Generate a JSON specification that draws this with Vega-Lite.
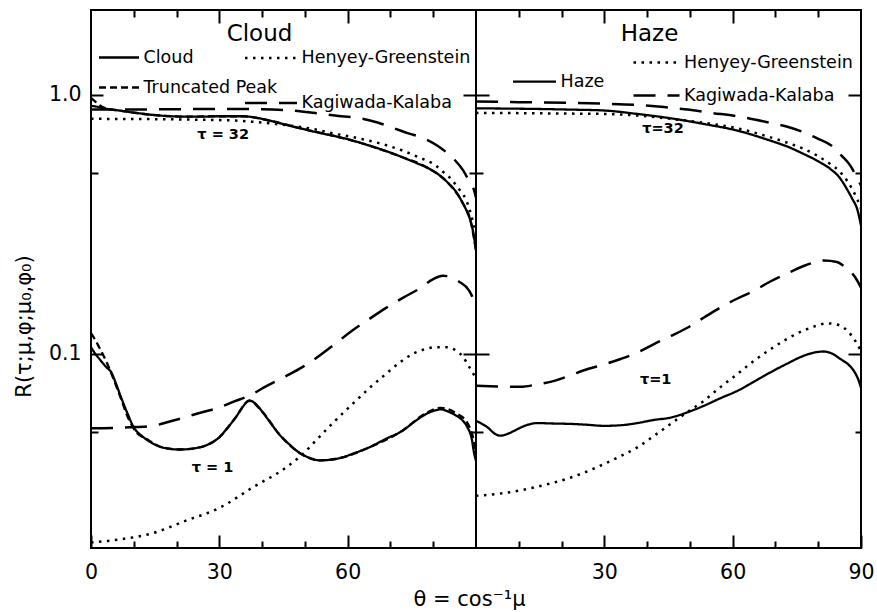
{
  "$schema": "https://vega.github.io/schema/vega-lite/v6.json",
  "padding": {"left": 12, "top": 8, "right": 5, "bottom": 3},
  "background": "white",
  "spacing": 0,
  "bounds": "flush",
  "config": {
    "font": "DejaVu Sans",
    "view": {"stroke": "#000", "strokeWidth": 2},
    "axis": {"domain": false, "grid": false, "tickColor": "#000", "tickWidth": 2, "labelColor": "#000", "titleColor": "#000", "labelFont": "DejaVu Sans", "titleFont": "DejaVu Sans", "titleFontWeight": "normal", "labelOverlap": false, "labelFlush": false},
    "legend": {"labelColor": "#000", "labelFont": "DejaVu Sans", "labelFontSize": 17.5, "padding": 0, "symbolStrokeColor": "#000", "symbolFillColor": "transparent", "symbolType": "stroke", "labelOffset": 3, "labelLimit": 400},
    "title": {"color": "#000", "font": "DejaVu Sans", "fontWeight": "normal", "fontSize": 23}
  },
  "datasets": {
    "notes": [
      {"panel": "Cloud", "theta": 30.9, "R": 0.70, "label": "τ = 32"},
      {"panel": "Cloud", "theta": 28.4, "R": 0.0363, "label": "τ = 1"},
      {"panel": "Haze", "theta": 43.7, "R": 0.739, "label": "τ=32"},
      {"panel": "Haze", "theta": 42, "R": 0.079, "label": "τ=1"}
    ],
    "curves": [
      {"panel":"Cloud","model":"Cloud","tau":32,"theta":0,"R":0.905},
      {"panel":"Cloud","model":"Cloud","tau":32,"theta":1,"R":0.9},
      {"panel":"Cloud","model":"Cloud","tau":32,"theta":3,"R":0.885},
      {"panel":"Cloud","model":"Cloud","tau":32,"theta":6.6,"R":0.868},
      {"panel":"Cloud","model":"Cloud","tau":32,"theta":10,"R":0.852},
      {"panel":"Cloud","model":"Cloud","tau":32,"theta":14.4,"R":0.835},
      {"panel":"Cloud","model":"Cloud","tau":32,"theta":18,"R":0.826},
      {"panel":"Cloud","model":"Cloud","tau":32,"theta":22.2,"R":0.822},
      {"panel":"Cloud","model":"Cloud","tau":32,"theta":26,"R":0.822},
      {"panel":"Cloud","model":"Cloud","tau":32,"theta":30,"R":0.825},
      {"panel":"Cloud","model":"Cloud","tau":32,"theta":35.4,"R":0.825},
      {"panel":"Cloud","model":"Cloud","tau":32,"theta":38.5,"R":0.815},
      {"panel":"Cloud","model":"Cloud","tau":32,"theta":41.7,"R":0.794},
      {"panel":"Cloud","model":"Cloud","tau":32,"theta":45.5,"R":0.765},
      {"panel":"Cloud","model":"Cloud","tau":32,"theta":49.5,"R":0.737},
      {"panel":"Cloud","model":"Cloud","tau":32,"theta":53,"R":0.714},
      {"panel":"Cloud","model":"Cloud","tau":32,"theta":57.2,"R":0.69},
      {"panel":"Cloud","model":"Cloud","tau":32,"theta":61,"R":0.666},
      {"panel":"Cloud","model":"Cloud","tau":32,"theta":65,"R":0.636},
      {"panel":"Cloud","model":"Cloud","tau":32,"theta":69,"R":0.605},
      {"panel":"Cloud","model":"Cloud","tau":32,"theta":72.8,"R":0.573},
      {"panel":"Cloud","model":"Cloud","tau":32,"theta":76,"R":0.545},
      {"panel":"Cloud","model":"Cloud","tau":32,"theta":79.1,"R":0.517},
      {"panel":"Cloud","model":"Cloud","tau":32,"theta":81.5,"R":0.488},
      {"panel":"Cloud","model":"Cloud","tau":32,"theta":83.7,"R":0.452},
      {"panel":"Cloud","model":"Cloud","tau":32,"theta":85.5,"R":0.418},
      {"panel":"Cloud","model":"Cloud","tau":32,"theta":86.8,"R":0.384},
      {"panel":"Cloud","model":"Cloud","tau":32,"theta":88,"R":0.35},
      {"panel":"Cloud","model":"Cloud","tau":32,"theta":88.8,"R":0.322},
      {"panel":"Cloud","model":"Cloud","tau":32,"theta":89.5,"R":0.285},
      {"panel":"Cloud","model":"Cloud","tau":32,"theta":90,"R":0.25},

      {"panel":"Cloud","model":"Truncated Peak","tau":32,"theta":0,"R":0.97},
      {"panel":"Cloud","model":"Truncated Peak","tau":32,"theta":1,"R":0.94},
      {"panel":"Cloud","model":"Truncated Peak","tau":32,"theta":2,"R":0.91},
      {"panel":"Cloud","model":"Truncated Peak","tau":32,"theta":3.5,"R":0.884},
      {"panel":"Cloud","model":"Truncated Peak","tau":32,"theta":6.6,"R":0.868},
      {"panel":"Cloud","model":"Truncated Peak","tau":32,"theta":14.4,"R":0.835},
      {"panel":"Cloud","model":"Truncated Peak","tau":32,"theta":22.2,"R":0.822},
      {"panel":"Cloud","model":"Truncated Peak","tau":32,"theta":30,"R":0.825},
      {"panel":"Cloud","model":"Truncated Peak","tau":32,"theta":35.4,"R":0.825},
      {"panel":"Cloud","model":"Truncated Peak","tau":32,"theta":41.7,"R":0.794},
      {"panel":"Cloud","model":"Truncated Peak","tau":32,"theta":49.5,"R":0.737},
      {"panel":"Cloud","model":"Truncated Peak","tau":32,"theta":57.2,"R":0.69},
      {"panel":"Cloud","model":"Truncated Peak","tau":32,"theta":65,"R":0.636},
      {"panel":"Cloud","model":"Truncated Peak","tau":32,"theta":72.8,"R":0.573},
      {"panel":"Cloud","model":"Truncated Peak","tau":32,"theta":79.1,"R":0.517},
      {"panel":"Cloud","model":"Truncated Peak","tau":32,"theta":83.7,"R":0.452},
      {"panel":"Cloud","model":"Truncated Peak","tau":32,"theta":86.8,"R":0.384},
      {"panel":"Cloud","model":"Truncated Peak","tau":32,"theta":88.8,"R":0.322},
      {"panel":"Cloud","model":"Truncated Peak","tau":32,"theta":90,"R":0.25},

      {"panel":"Cloud","model":"Henyey-Greenstein","tau":32,"theta":0,"R":0.806},
      {"panel":"Cloud","model":"Henyey-Greenstein","tau":32,"theta":10,"R":0.805},
      {"panel":"Cloud","model":"Henyey-Greenstein","tau":32,"theta":20,"R":0.802},
      {"panel":"Cloud","model":"Henyey-Greenstein","tau":32,"theta":30,"R":0.797},
      {"panel":"Cloud","model":"Henyey-Greenstein","tau":32,"theta":33.7,"R":0.794},
      {"panel":"Cloud","model":"Henyey-Greenstein","tau":32,"theta":37.7,"R":0.786},
      {"panel":"Cloud","model":"Henyey-Greenstein","tau":32,"theta":41.7,"R":0.775},
      {"panel":"Cloud","model":"Henyey-Greenstein","tau":32,"theta":45.5,"R":0.762},
      {"panel":"Cloud","model":"Henyey-Greenstein","tau":32,"theta":49.5,"R":0.748},
      {"panel":"Cloud","model":"Henyey-Greenstein","tau":32,"theta":53,"R":0.73},
      {"panel":"Cloud","model":"Henyey-Greenstein","tau":32,"theta":57.2,"R":0.705},
      {"panel":"Cloud","model":"Henyey-Greenstein","tau":32,"theta":61,"R":0.686},
      {"panel":"Cloud","model":"Henyey-Greenstein","tau":32,"theta":65,"R":0.664},
      {"panel":"Cloud","model":"Henyey-Greenstein","tau":32,"theta":69,"R":0.638},
      {"panel":"Cloud","model":"Henyey-Greenstein","tau":32,"theta":72.8,"R":0.608},
      {"panel":"Cloud","model":"Henyey-Greenstein","tau":32,"theta":76.5,"R":0.574},
      {"panel":"Cloud","model":"Henyey-Greenstein","tau":32,"theta":80.6,"R":0.532},
      {"panel":"Cloud","model":"Henyey-Greenstein","tau":32,"theta":82.5,"R":0.5},
      {"panel":"Cloud","model":"Henyey-Greenstein","tau":32,"theta":84.5,"R":0.466},
      {"panel":"Cloud","model":"Henyey-Greenstein","tau":32,"theta":86,"R":0.432},
      {"panel":"Cloud","model":"Henyey-Greenstein","tau":32,"theta":87.6,"R":0.395},
      {"panel":"Cloud","model":"Henyey-Greenstein","tau":32,"theta":88.5,"R":0.36},
      {"panel":"Cloud","model":"Henyey-Greenstein","tau":32,"theta":89.1,"R":0.332},
      {"panel":"Cloud","model":"Henyey-Greenstein","tau":32,"theta":89.8,"R":0.3},

      {"panel":"Cloud","model":"Kagiwada-Kalaba","tau":32,"theta":0,"R":0.875},
      {"panel":"Cloud","model":"Kagiwada-Kalaba","tau":32,"theta":10,"R":0.876},
      {"panel":"Cloud","model":"Kagiwada-Kalaba","tau":32,"theta":20,"R":0.878},
      {"panel":"Cloud","model":"Kagiwada-Kalaba","tau":32,"theta":30,"R":0.88},
      {"panel":"Cloud","model":"Kagiwada-Kalaba","tau":32,"theta":40,"R":0.878},
      {"panel":"Cloud","model":"Kagiwada-Kalaba","tau":32,"theta":46,"R":0.87},
      {"panel":"Cloud","model":"Kagiwada-Kalaba","tau":32,"theta":52,"R":0.85},
      {"panel":"Cloud","model":"Kagiwada-Kalaba","tau":32,"theta":57,"R":0.83},
      {"panel":"Cloud","model":"Kagiwada-Kalaba","tau":32,"theta":63,"R":0.81},
      {"panel":"Cloud","model":"Kagiwada-Kalaba","tau":32,"theta":67,"R":0.78},
      {"panel":"Cloud","model":"Kagiwada-Kalaba","tau":32,"theta":70,"R":0.75},
      {"panel":"Cloud","model":"Kagiwada-Kalaba","tau":32,"theta":74,"R":0.71},
      {"panel":"Cloud","model":"Kagiwada-Kalaba","tau":32,"theta":78,"R":0.676},
      {"panel":"Cloud","model":"Kagiwada-Kalaba","tau":32,"theta":81,"R":0.635},
      {"panel":"Cloud","model":"Kagiwada-Kalaba","tau":32,"theta":83,"R":0.6},
      {"panel":"Cloud","model":"Kagiwada-Kalaba","tau":32,"theta":85,"R":0.56},
      {"panel":"Cloud","model":"Kagiwada-Kalaba","tau":32,"theta":87,"R":0.51},
      {"panel":"Cloud","model":"Kagiwada-Kalaba","tau":32,"theta":88.5,"R":0.46},
      {"panel":"Cloud","model":"Kagiwada-Kalaba","tau":32,"theta":89.5,"R":0.43},
      {"panel":"Cloud","model":"Kagiwada-Kalaba","tau":32,"theta":90,"R":0.4},

      {"panel":"Cloud","model":"Cloud","tau":1,"theta":0,"R":0.106},
      {"panel":"Cloud","model":"Cloud","tau":1,"theta":1,"R":0.1},
      {"panel":"Cloud","model":"Cloud","tau":1,"theta":2.3,"R":0.094},
      {"panel":"Cloud","model":"Cloud","tau":1,"theta":3.5,"R":0.089},
      {"panel":"Cloud","model":"Cloud","tau":1,"theta":4.7,"R":0.085},
      {"panel":"Cloud","model":"Cloud","tau":1,"theta":5.8,"R":0.077},
      {"panel":"Cloud","model":"Cloud","tau":1,"theta":7,"R":0.068},
      {"panel":"Cloud","model":"Cloud","tau":1,"theta":8.5,"R":0.059},
      {"panel":"Cloud","model":"Cloud","tau":1,"theta":10,"R":0.052},
      {"panel":"Cloud","model":"Cloud","tau":1,"theta":12,"R":0.048},
      {"panel":"Cloud","model":"Cloud","tau":1,"theta":14,"R":0.0455},
      {"panel":"Cloud","model":"Cloud","tau":1,"theta":16.7,"R":0.0435},
      {"panel":"Cloud","model":"Cloud","tau":1,"theta":20.6,"R":0.0427},
      {"panel":"Cloud","model":"Cloud","tau":1,"theta":25.3,"R":0.0435},
      {"panel":"Cloud","model":"Cloud","tau":1,"theta":28,"R":0.0452},
      {"panel":"Cloud","model":"Cloud","tau":1,"theta":30,"R":0.0476},
      {"panel":"Cloud","model":"Cloud","tau":1,"theta":32,"R":0.052},
      {"panel":"Cloud","model":"Cloud","tau":1,"theta":33.9,"R":0.057},
      {"panel":"Cloud","model":"Cloud","tau":1,"theta":35.5,"R":0.0625},
      {"panel":"Cloud","model":"Cloud","tau":1,"theta":37,"R":0.066},
      {"panel":"Cloud","model":"Cloud","tau":1,"theta":38.5,"R":0.064},
      {"panel":"Cloud","model":"Cloud","tau":1,"theta":40.1,"R":0.0596},
      {"panel":"Cloud","model":"Cloud","tau":1,"theta":42,"R":0.054},
      {"panel":"Cloud","model":"Cloud","tau":1,"theta":44,"R":0.0489},
      {"panel":"Cloud","model":"Cloud","tau":1,"theta":46.5,"R":0.0445},
      {"panel":"Cloud","model":"Cloud","tau":1,"theta":48.7,"R":0.0415},
      {"panel":"Cloud","model":"Cloud","tau":1,"theta":51,"R":0.0397},
      {"panel":"Cloud","model":"Cloud","tau":1,"theta":53.3,"R":0.0388},
      {"panel":"Cloud","model":"Cloud","tau":1,"theta":56,"R":0.039},
      {"panel":"Cloud","model":"Cloud","tau":1,"theta":58,"R":0.0395},
      {"panel":"Cloud","model":"Cloud","tau":1,"theta":61.5,"R":0.0413},
      {"panel":"Cloud","model":"Cloud","tau":1,"theta":65,"R":0.0435},
      {"panel":"Cloud","model":"Cloud","tau":1,"theta":69,"R":0.047},
      {"panel":"Cloud","model":"Cloud","tau":1,"theta":72.8,"R":0.0504},
      {"panel":"Cloud","model":"Cloud","tau":1,"theta":75.5,"R":0.0545},
      {"panel":"Cloud","model":"Cloud","tau":1,"theta":78.3,"R":0.0585},
      {"panel":"Cloud","model":"Cloud","tau":1,"theta":80.5,"R":0.0605},
      {"panel":"Cloud","model":"Cloud","tau":1,"theta":81.8,"R":0.061},
      {"panel":"Cloud","model":"Cloud","tau":1,"theta":83.5,"R":0.0598},
      {"panel":"Cloud","model":"Cloud","tau":1,"theta":85.3,"R":0.0578},
      {"panel":"Cloud","model":"Cloud","tau":1,"theta":87,"R":0.055},
      {"panel":"Cloud","model":"Cloud","tau":1,"theta":88,"R":0.052},
      {"panel":"Cloud","model":"Cloud","tau":1,"theta":89,"R":0.047},
      {"panel":"Cloud","model":"Cloud","tau":1,"theta":89.6,"R":0.041},
      {"panel":"Cloud","model":"Cloud","tau":1,"theta":90,"R":0.0386},

      {"panel":"Cloud","model":"Truncated Peak","tau":1,"theta":0,"R":0.12},
      {"panel":"Cloud","model":"Truncated Peak","tau":1,"theta":1,"R":0.113},
      {"panel":"Cloud","model":"Truncated Peak","tau":1,"theta":1.9,"R":0.106},
      {"panel":"Cloud","model":"Truncated Peak","tau":1,"theta":3.5,"R":0.094},
      {"panel":"Cloud","model":"Truncated Peak","tau":1,"theta":5,"R":0.082},
      {"panel":"Cloud","model":"Truncated Peak","tau":1,"theta":6.6,"R":0.07},
      {"panel":"Cloud","model":"Truncated Peak","tau":1,"theta":8.8,"R":0.056},
      {"panel":"Cloud","model":"Truncated Peak","tau":1,"theta":10.5,"R":0.05},
      {"panel":"Cloud","model":"Truncated Peak","tau":1,"theta":12.9,"R":0.047},
      {"panel":"Cloud","model":"Truncated Peak","tau":1,"theta":16.7,"R":0.0435},
      {"panel":"Cloud","model":"Truncated Peak","tau":1,"theta":20.6,"R":0.0427},
      {"panel":"Cloud","model":"Truncated Peak","tau":1,"theta":25.3,"R":0.0435},
      {"panel":"Cloud","model":"Truncated Peak","tau":1,"theta":30,"R":0.0476},
      {"panel":"Cloud","model":"Truncated Peak","tau":1,"theta":33.9,"R":0.057},
      {"panel":"Cloud","model":"Truncated Peak","tau":1,"theta":37,"R":0.0658},
      {"panel":"Cloud","model":"Truncated Peak","tau":1,"theta":40.1,"R":0.0596},
      {"panel":"Cloud","model":"Truncated Peak","tau":1,"theta":44,"R":0.0489},
      {"panel":"Cloud","model":"Truncated Peak","tau":1,"theta":48.7,"R":0.0415},
      {"panel":"Cloud","model":"Truncated Peak","tau":1,"theta":53.3,"R":0.0388},
      {"panel":"Cloud","model":"Truncated Peak","tau":1,"theta":58,"R":0.0395},
      {"panel":"Cloud","model":"Truncated Peak","tau":1,"theta":65,"R":0.0435},
      {"panel":"Cloud","model":"Truncated Peak","tau":1,"theta":72.8,"R":0.0505},
      {"panel":"Cloud","model":"Truncated Peak","tau":1,"theta":78.3,"R":0.059},
      {"panel":"Cloud","model":"Truncated Peak","tau":1,"theta":81.8,"R":0.0618},
      {"panel":"Cloud","model":"Truncated Peak","tau":1,"theta":85.3,"R":0.059},
      {"panel":"Cloud","model":"Truncated Peak","tau":1,"theta":88,"R":0.054},
      {"panel":"Cloud","model":"Truncated Peak","tau":1,"theta":89.6,"R":0.045},
      {"panel":"Cloud","model":"Truncated Peak","tau":1,"theta":90,"R":0.041},

      {"panel":"Cloud","model":"Henyey-Greenstein","tau":1,"theta":0,"R":0.0187},
      {"panel":"Cloud","model":"Henyey-Greenstein","tau":1,"theta":6.6,"R":0.0192},
      {"panel":"Cloud","model":"Henyey-Greenstein","tau":1,"theta":14.4,"R":0.0203},
      {"panel":"Cloud","model":"Henyey-Greenstein","tau":1,"theta":22.2,"R":0.0227},
      {"panel":"Cloud","model":"Henyey-Greenstein","tau":1,"theta":30,"R":0.0254},
      {"panel":"Cloud","model":"Henyey-Greenstein","tau":1,"theta":37.8,"R":0.0305},
      {"panel":"Cloud","model":"Henyey-Greenstein","tau":1,"theta":45.6,"R":0.0364},
      {"panel":"Cloud","model":"Henyey-Greenstein","tau":1,"theta":49.5,"R":0.041},
      {"panel":"Cloud","model":"Henyey-Greenstein","tau":1,"theta":53.3,"R":0.0476},
      {"panel":"Cloud","model":"Henyey-Greenstein","tau":1,"theta":57,"R":0.055},
      {"panel":"Cloud","model":"Henyey-Greenstein","tau":1,"theta":61.1,"R":0.0639},
      {"panel":"Cloud","model":"Henyey-Greenstein","tau":1,"theta":65,"R":0.0735},
      {"panel":"Cloud","model":"Henyey-Greenstein","tau":1,"theta":68.9,"R":0.0835},
      {"panel":"Cloud","model":"Henyey-Greenstein","tau":1,"theta":72,"R":0.092},
      {"panel":"Cloud","model":"Henyey-Greenstein","tau":1,"theta":75.1,"R":0.0997},
      {"panel":"Cloud","model":"Henyey-Greenstein","tau":1,"theta":78,"R":0.104},
      {"panel":"Cloud","model":"Henyey-Greenstein","tau":1,"theta":80.6,"R":0.106},
      {"panel":"Cloud","model":"Henyey-Greenstein","tau":1,"theta":83,"R":0.106},
      {"panel":"Cloud","model":"Henyey-Greenstein","tau":1,"theta":85.3,"R":0.103},
      {"panel":"Cloud","model":"Henyey-Greenstein","tau":1,"theta":87,"R":0.097},
      {"panel":"Cloud","model":"Henyey-Greenstein","tau":1,"theta":88.4,"R":0.089},
      {"panel":"Cloud","model":"Henyey-Greenstein","tau":1,"theta":89.5,"R":0.083},
      {"panel":"Cloud","model":"Henyey-Greenstein","tau":1,"theta":90,"R":0.08},

      {"panel":"Cloud","model":"Kagiwada-Kalaba","tau":1,"theta":0,"R":0.0516},
      {"panel":"Cloud","model":"Kagiwada-Kalaba","tau":1,"theta":5,"R":0.0517},
      {"panel":"Cloud","model":"Kagiwada-Kalaba","tau":1,"theta":9,"R":0.052},
      {"panel":"Cloud","model":"Kagiwada-Kalaba","tau":1,"theta":14.4,"R":0.0527},
      {"panel":"Cloud","model":"Kagiwada-Kalaba","tau":1,"theta":18,"R":0.0545},
      {"panel":"Cloud","model":"Kagiwada-Kalaba","tau":1,"theta":22.2,"R":0.057},
      {"panel":"Cloud","model":"Kagiwada-Kalaba","tau":1,"theta":26,"R":0.0595},
      {"panel":"Cloud","model":"Kagiwada-Kalaba","tau":1,"theta":30,"R":0.062},
      {"panel":"Cloud","model":"Kagiwada-Kalaba","tau":1,"theta":33.5,"R":0.0655},
      {"panel":"Cloud","model":"Kagiwada-Kalaba","tau":1,"theta":37,"R":0.0689},
      {"panel":"Cloud","model":"Kagiwada-Kalaba","tau":1,"theta":41,"R":0.075},
      {"panel":"Cloud","model":"Kagiwada-Kalaba","tau":1,"theta":45.6,"R":0.082},
      {"panel":"Cloud","model":"Kagiwada-Kalaba","tau":1,"theta":49.5,"R":0.089},
      {"panel":"Cloud","model":"Kagiwada-Kalaba","tau":1,"theta":53.3,"R":0.098},
      {"panel":"Cloud","model":"Kagiwada-Kalaba","tau":1,"theta":57,"R":0.109},
      {"panel":"Cloud","model":"Kagiwada-Kalaba","tau":1,"theta":61.1,"R":0.123},
      {"panel":"Cloud","model":"Kagiwada-Kalaba","tau":1,"theta":65,"R":0.136},
      {"panel":"Cloud","model":"Kagiwada-Kalaba","tau":1,"theta":68.9,"R":0.15},
      {"panel":"Cloud","model":"Kagiwada-Kalaba","tau":1,"theta":72.8,"R":0.164},
      {"panel":"Cloud","model":"Kagiwada-Kalaba","tau":1,"theta":76.7,"R":0.178},
      {"panel":"Cloud","model":"Kagiwada-Kalaba","tau":1,"theta":80,"R":0.194},
      {"panel":"Cloud","model":"Kagiwada-Kalaba","tau":1,"theta":82.2,"R":0.2},
      {"panel":"Cloud","model":"Kagiwada-Kalaba","tau":1,"theta":84,"R":0.198},
      {"panel":"Cloud","model":"Kagiwada-Kalaba","tau":1,"theta":86,"R":0.19},
      {"panel":"Cloud","model":"Kagiwada-Kalaba","tau":1,"theta":88.4,"R":0.175},
      {"panel":"Cloud","model":"Kagiwada-Kalaba","tau":1,"theta":89.5,"R":0.16},
      {"panel":"Cloud","model":"Kagiwada-Kalaba","tau":1,"theta":90,"R":0.15},

      {"panel":"Haze","model":"Haze","tau":32,"theta":0,"R":0.885},
      {"panel":"Haze","model":"Haze","tau":32,"theta":7,"R":0.883},
      {"panel":"Haze","model":"Haze","tau":32,"theta":14.4,"R":0.88},
      {"panel":"Haze","model":"Haze","tau":32,"theta":22,"R":0.875},
      {"panel":"Haze","model":"Haze","tau":32,"theta":30,"R":0.868},
      {"panel":"Haze","model":"Haze","tau":32,"theta":37.7,"R":0.842},
      {"panel":"Haze","model":"Haze","tau":32,"theta":45.5,"R":0.81},
      {"panel":"Haze","model":"Haze","tau":32,"theta":53.3,"R":0.77},
      {"panel":"Haze","model":"Haze","tau":32,"theta":61.1,"R":0.726},
      {"panel":"Haze","model":"Haze","tau":32,"theta":68.8,"R":0.664},
      {"panel":"Haze","model":"Haze","tau":32,"theta":73,"R":0.628},
      {"panel":"Haze","model":"Haze","tau":32,"theta":76.6,"R":0.59},
      {"panel":"Haze","model":"Haze","tau":32,"theta":80,"R":0.553},
      {"panel":"Haze","model":"Haze","tau":32,"theta":82.8,"R":0.517},
      {"panel":"Haze","model":"Haze","tau":32,"theta":85,"R":0.478},
      {"panel":"Haze","model":"Haze","tau":32,"theta":86.7,"R":0.432},
      {"panel":"Haze","model":"Haze","tau":32,"theta":88,"R":0.395},
      {"panel":"Haze","model":"Haze","tau":32,"theta":89.1,"R":0.362},
      {"panel":"Haze","model":"Haze","tau":32,"theta":90,"R":0.312},

      {"panel":"Haze","model":"Henyey-Greenstein","tau":32,"theta":0,"R":0.85},
      {"panel":"Haze","model":"Henyey-Greenstein","tau":32,"theta":10,"R":0.848},
      {"panel":"Haze","model":"Henyey-Greenstein","tau":32,"theta":20,"R":0.845},
      {"panel":"Haze","model":"Henyey-Greenstein","tau":32,"theta":30,"R":0.842},
      {"panel":"Haze","model":"Henyey-Greenstein","tau":32,"theta":37.7,"R":0.83},
      {"panel":"Haze","model":"Henyey-Greenstein","tau":32,"theta":45.5,"R":0.806},
      {"panel":"Haze","model":"Henyey-Greenstein","tau":32,"theta":53.3,"R":0.778},
      {"panel":"Haze","model":"Henyey-Greenstein","tau":32,"theta":61.1,"R":0.741},
      {"panel":"Haze","model":"Henyey-Greenstein","tau":32,"theta":68.8,"R":0.684},
      {"panel":"Haze","model":"Henyey-Greenstein","tau":32,"theta":73,"R":0.65},
      {"panel":"Haze","model":"Henyey-Greenstein","tau":32,"theta":76.6,"R":0.617},
      {"panel":"Haze","model":"Henyey-Greenstein","tau":32,"theta":80,"R":0.578},
      {"panel":"Haze","model":"Henyey-Greenstein","tau":32,"theta":82.8,"R":0.54},
      {"panel":"Haze","model":"Henyey-Greenstein","tau":32,"theta":85,"R":0.505},
      {"panel":"Haze","model":"Henyey-Greenstein","tau":32,"theta":86.7,"R":0.466},
      {"panel":"Haze","model":"Henyey-Greenstein","tau":32,"theta":88,"R":0.43},
      {"panel":"Haze","model":"Henyey-Greenstein","tau":32,"theta":89.1,"R":0.395},
      {"panel":"Haze","model":"Henyey-Greenstein","tau":32,"theta":90,"R":0.363},

      {"panel":"Haze","model":"Kagiwada-Kalaba","tau":32,"theta":0,"R":0.94},
      {"panel":"Haze","model":"Kagiwada-Kalaba","tau":32,"theta":10,"R":0.935},
      {"panel":"Haze","model":"Kagiwada-Kalaba","tau":32,"theta":22.2,"R":0.929},
      {"panel":"Haze","model":"Kagiwada-Kalaba","tau":32,"theta":30,"R":0.922},
      {"panel":"Haze","model":"Kagiwada-Kalaba","tau":32,"theta":37.7,"R":0.912},
      {"panel":"Haze","model":"Kagiwada-Kalaba","tau":32,"theta":44,"R":0.895},
      {"panel":"Haze","model":"Kagiwada-Kalaba","tau":32,"theta":49.4,"R":0.875},
      {"panel":"Haze","model":"Kagiwada-Kalaba","tau":32,"theta":55,"R":0.85},
      {"panel":"Haze","model":"Kagiwada-Kalaba","tau":32,"theta":61.1,"R":0.825},
      {"panel":"Haze","model":"Kagiwada-Kalaba","tau":32,"theta":68.8,"R":0.778},
      {"panel":"Haze","model":"Kagiwada-Kalaba","tau":32,"theta":73,"R":0.75},
      {"panel":"Haze","model":"Kagiwada-Kalaba","tau":32,"theta":76.6,"R":0.715},
      {"panel":"Haze","model":"Kagiwada-Kalaba","tau":32,"theta":80,"R":0.675},
      {"panel":"Haze","model":"Kagiwada-Kalaba","tau":32,"theta":83.6,"R":0.626},
      {"panel":"Haze","model":"Kagiwada-Kalaba","tau":32,"theta":85.5,"R":0.58},
      {"panel":"Haze","model":"Kagiwada-Kalaba","tau":32,"theta":87.5,"R":0.532},
      {"panel":"Haze","model":"Kagiwada-Kalaba","tau":32,"theta":89,"R":0.48},
      {"panel":"Haze","model":"Kagiwada-Kalaba","tau":32,"theta":90,"R":0.446},

      {"panel":"Haze","model":"Haze","tau":1,"theta":0,"R":0.0551},
      {"panel":"Haze","model":"Haze","tau":1,"theta":1.5,"R":0.0535},
      {"panel":"Haze","model":"Haze","tau":1,"theta":2.7,"R":0.052},
      {"panel":"Haze","model":"Haze","tau":1,"theta":4.5,"R":0.049},
      {"panel":"Haze","model":"Haze","tau":1,"theta":5.8,"R":0.0483},
      {"panel":"Haze","model":"Haze","tau":1,"theta":7.3,"R":0.049},
      {"panel":"Haze","model":"Haze","tau":1,"theta":8.9,"R":0.0504},
      {"panel":"Haze","model":"Haze","tau":1,"theta":11.5,"R":0.0528},
      {"panel":"Haze","model":"Haze","tau":1,"theta":14.4,"R":0.054},
      {"panel":"Haze","model":"Haze","tau":1,"theta":18,"R":0.0538},
      {"panel":"Haze","model":"Haze","tau":1,"theta":22.2,"R":0.0536},
      {"panel":"Haze","model":"Haze","tau":1,"theta":26,"R":0.0532},
      {"panel":"Haze","model":"Haze","tau":1,"theta":29.9,"R":0.0527},
      {"panel":"Haze","model":"Haze","tau":1,"theta":34,"R":0.053},
      {"panel":"Haze","model":"Haze","tau":1,"theta":37.7,"R":0.054},
      {"panel":"Haze","model":"Haze","tau":1,"theta":41.5,"R":0.0555},
      {"panel":"Haze","model":"Haze","tau":1,"theta":45.5,"R":0.0567},
      {"panel":"Haze","model":"Haze","tau":1,"theta":49.5,"R":0.0595},
      {"panel":"Haze","model":"Haze","tau":1,"theta":53.3,"R":0.063},
      {"panel":"Haze","model":"Haze","tau":1,"theta":57,"R":0.0672},
      {"panel":"Haze","model":"Haze","tau":1,"theta":61.1,"R":0.0719},
      {"panel":"Haze","model":"Haze","tau":1,"theta":65,"R":0.078},
      {"panel":"Haze","model":"Haze","tau":1,"theta":68.8,"R":0.0847},
      {"panel":"Haze","model":"Haze","tau":1,"theta":72.7,"R":0.0915},
      {"panel":"Haze","model":"Haze","tau":1,"theta":76.6,"R":0.0982},
      {"panel":"Haze","model":"Haze","tau":1,"theta":79,"R":0.101},
      {"panel":"Haze","model":"Haze","tau":1,"theta":81.3,"R":0.102},
      {"panel":"Haze","model":"Haze","tau":1,"theta":83.3,"R":0.1},
      {"panel":"Haze","model":"Haze","tau":1,"theta":85.2,"R":0.0954},
      {"panel":"Haze","model":"Haze","tau":1,"theta":87,"R":0.091},
      {"panel":"Haze","model":"Haze","tau":1,"theta":88.3,"R":0.086},
      {"panel":"Haze","model":"Haze","tau":1,"theta":89.3,"R":0.08},
      {"panel":"Haze","model":"Haze","tau":1,"theta":90,"R":0.074},

      {"panel":"Haze","model":"Henyey-Greenstein","tau":1,"theta":0,"R":0.0283},
      {"panel":"Haze","model":"Henyey-Greenstein","tau":1,"theta":6.6,"R":0.029},
      {"panel":"Haze","model":"Henyey-Greenstein","tau":1,"theta":14.4,"R":0.0307},
      {"panel":"Haze","model":"Henyey-Greenstein","tau":1,"theta":22.2,"R":0.0333},
      {"panel":"Haze","model":"Henyey-Greenstein","tau":1,"theta":29.9,"R":0.0375},
      {"panel":"Haze","model":"Henyey-Greenstein","tau":1,"theta":33.8,"R":0.0403},
      {"panel":"Haze","model":"Henyey-Greenstein","tau":1,"theta":37.7,"R":0.0435},
      {"panel":"Haze","model":"Henyey-Greenstein","tau":1,"theta":41.6,"R":0.0482},
      {"panel":"Haze","model":"Henyey-Greenstein","tau":1,"theta":45.5,"R":0.0536},
      {"panel":"Haze","model":"Henyey-Greenstein","tau":1,"theta":49.4,"R":0.0595},
      {"panel":"Haze","model":"Henyey-Greenstein","tau":1,"theta":53.3,"R":0.0659},
      {"panel":"Haze","model":"Henyey-Greenstein","tau":1,"theta":57.2,"R":0.0745},
      {"panel":"Haze","model":"Henyey-Greenstein","tau":1,"theta":61.1,"R":0.0835},
      {"panel":"Haze","model":"Henyey-Greenstein","tau":1,"theta":65,"R":0.094},
      {"panel":"Haze","model":"Henyey-Greenstein","tau":1,"theta":68.8,"R":0.104},
      {"panel":"Haze","model":"Henyey-Greenstein","tau":1,"theta":72.7,"R":0.114},
      {"panel":"Haze","model":"Henyey-Greenstein","tau":1,"theta":76.6,"R":0.123},
      {"panel":"Haze","model":"Henyey-Greenstein","tau":1,"theta":79.5,"R":0.128},
      {"panel":"Haze","model":"Henyey-Greenstein","tau":1,"theta":82.1,"R":0.131},
      {"panel":"Haze","model":"Henyey-Greenstein","tau":1,"theta":84,"R":0.13},
      {"panel":"Haze","model":"Henyey-Greenstein","tau":1,"theta":86,"R":0.126},
      {"panel":"Haze","model":"Henyey-Greenstein","tau":1,"theta":87.7,"R":0.118},
      {"panel":"Haze","model":"Henyey-Greenstein","tau":1,"theta":89.1,"R":0.109},
      {"panel":"Haze","model":"Henyey-Greenstein","tau":1,"theta":90,"R":0.102},

      {"panel":"Haze","model":"Kagiwada-Kalaba","tau":1,"theta":0,"R":0.0752},
      {"panel":"Haze","model":"Kagiwada-Kalaba","tau":1,"theta":5,"R":0.0748},
      {"panel":"Haze","model":"Kagiwada-Kalaba","tau":1,"theta":10.5,"R":0.0745},
      {"panel":"Haze","model":"Kagiwada-Kalaba","tau":1,"theta":14,"R":0.076},
      {"panel":"Haze","model":"Kagiwada-Kalaba","tau":1,"theta":18.3,"R":0.0786},
      {"panel":"Haze","model":"Kagiwada-Kalaba","tau":1,"theta":22,"R":0.0825},
      {"panel":"Haze","model":"Kagiwada-Kalaba","tau":1,"theta":26.1,"R":0.0873},
      {"panel":"Haze","model":"Kagiwada-Kalaba","tau":1,"theta":30,"R":0.091},
      {"panel":"Haze","model":"Kagiwada-Kalaba","tau":1,"theta":33.8,"R":0.0954},
      {"panel":"Haze","model":"Kagiwada-Kalaba","tau":1,"theta":37.7,"R":0.101},
      {"panel":"Haze","model":"Kagiwada-Kalaba","tau":1,"theta":41.6,"R":0.109},
      {"panel":"Haze","model":"Kagiwada-Kalaba","tau":1,"theta":45.5,"R":0.117},
      {"panel":"Haze","model":"Kagiwada-Kalaba","tau":1,"theta":49.4,"R":0.126},
      {"panel":"Haze","model":"Kagiwada-Kalaba","tau":1,"theta":53.3,"R":0.138},
      {"panel":"Haze","model":"Kagiwada-Kalaba","tau":1,"theta":57.2,"R":0.151},
      {"panel":"Haze","model":"Kagiwada-Kalaba","tau":1,"theta":61,"R":0.163},
      {"panel":"Haze","model":"Kagiwada-Kalaba","tau":1,"theta":65,"R":0.175},
      {"panel":"Haze","model":"Kagiwada-Kalaba","tau":1,"theta":68.8,"R":0.19},
      {"panel":"Haze","model":"Kagiwada-Kalaba","tau":1,"theta":72.7,"R":0.204},
      {"panel":"Haze","model":"Kagiwada-Kalaba","tau":1,"theta":76.6,"R":0.218},
      {"panel":"Haze","model":"Kagiwada-Kalaba","tau":1,"theta":79,"R":0.225},
      {"panel":"Haze","model":"Kagiwada-Kalaba","tau":1,"theta":81.3,"R":0.229},
      {"panel":"Haze","model":"Kagiwada-Kalaba","tau":1,"theta":84.4,"R":0.226},
      {"panel":"Haze","model":"Kagiwada-Kalaba","tau":1,"theta":86,"R":0.218},
      {"panel":"Haze","model":"Kagiwada-Kalaba","tau":1,"theta":87.5,"R":0.208},
      {"panel":"Haze","model":"Kagiwada-Kalaba","tau":1,"theta":89,"R":0.193},
      {"panel":"Haze","model":"Kagiwada-Kalaba","tau":1,"theta":90,"R":0.18}
    ]
  },
  "resolve": {"scale": {"strokeDash": "independent"}, "legend": {"strokeDash": "independent"}},
  "hconcat": [
    {
      "width": 385,
      "height": 538,
      "title": {"text": "Cloud", "offset": -55, "baseline": "alphabetic", "dx": -24, "frame": "group", "anchor": "middle"},
      "resolve": {"scale": {"strokeDash": "independent"}, "legend": {"strokeDash": "independent"}, "axis": {"x": "independent", "y": "independent"}},
      "layer": [
        {
          "data": {"name": "curves"},
          "transform": [{"filter": "datum.panel === 'Cloud' && (datum.model === 'Cloud' || datum.model === 'Truncated Peak')"}],
          "mark": {"type": "line", "color": "#000", "strokeWidth": 2.3, "interpolate": "monotone"},
          "encoding": {
            "x": {"field": "theta", "type": "quantitative", "scale": {"domain": [0, 90], "nice": false, "zero": false},
              "axis": {"orient": "bottom", "values": [0, 10, 20, 30, 40, 50, 60, 70, 80], "tickSize": {"condition": {"test": "datum.value % 30 === 0", "value": -13}, "value": -7}, "labelExpr": "datum.value % 30 === 0 ? datum.label : ''", "labelPadding": 27, "labelFontSize": 20.5, "title": "θ = cos⁻¹μ", "titleFontSize": 21, "titleX": 378, "titleY": 40}},
            "y": {"field": "R", "type": "quantitative", "scale": {"type": "log", "domain": [0.0178, 2.12], "nice": false},
              "axis": {"orient": "left", "values": [0.05, 0.1, 0.5, 1], "tickSize": {"condition": {"test": "datum.value === 1 || datum.value === 0.1", "value": -12}, "value": -7}, "labelExpr": "datum.value === 1 ? '1.0' : datum.value === 0.1 ? '0.1' : ''", "labelPadding": 22, "labelFontSize": 20.5, "title": "R(τ;μ,φ;μ₀,φ₀)", "titleFontSize": 21, "titleX": -57, "titleY": 316}},
            "detail": {"field": "tau", "type": "nominal"},
            "strokeDash": {"field": "model", "type": "nominal", "scale": {"domain": ["Cloud", "Truncated Peak"], "range": [[1, 0], [7, 4]]},
              "legend": {"orient": "none", "legendX": 6.5, "legendY": 26, "title": null, "symbolSize": 1600, "symbolStrokeWidth": 2.3, "rowPadding": 0, "direction": "vertical"}}
          }
        },
        {
          "data": {"name": "curves"},
          "transform": [{"filter": "datum.panel === 'Cloud' && (datum.model === 'Henyey-Greenstein' || datum.model === 'Kagiwada-Kalaba')"}],
          "mark": {"type": "line", "color": "#000", "strokeWidth": 2.5, "interpolate": "monotone"},
          "encoding": {
            "x": {"field": "theta", "type": "quantitative",
              "axis": {"orient": "top", "values": [10, 20, 30, 40, 50, 60, 70, 80], "tickSize": {"condition": {"test": "datum.value % 30 === 0", "value": -13}, "value": -7}, "labels": false, "title": null}},
            "y": {"field": "R", "type": "quantitative",
              "axis": {"orient": "right", "values": [0.05, 0.1, 0.5, 1], "tickSize": {"condition": {"test": "datum.value === 1 || datum.value === 0.1", "value": -13}, "value": -7}, "labels": false, "title": null}},
            "detail": {"field": "tau", "type": "nominal"},
            "strokeDash": {"field": "model", "type": "nominal", "scale": {"domain": ["Henyey-Greenstein", "Kagiwada-Kalaba"], "range": [[2.5, 5.5], [22, 12]]},
              "legend": {"orient": "none", "legendX": 152.5, "legendY": 20.5, "title": null, "symbolSize": 2704, "symbolStrokeWidth": 2.5, "rowPadding": 9, "direction": "vertical"}}
          }
        },
        {
          "data": {"name": "notes"},
          "transform": [{"filter": "datum.panel === 'Cloud'"}],
          "mark": {"type": "text", "fontSize": 14.5, "fontWeight": "bold", "color": "#000"},
          "encoding": {
            "x": {"field": "theta", "type": "quantitative", "axis": null},
            "y": {"field": "R", "type": "quantitative", "axis": null},
            "text": {"field": "label"}
          }
        }
      ]
    },
    {
      "width": 385,
      "height": 538,
      "title": {"text": "Haze", "offset": -55, "baseline": "alphabetic", "dx": -19, "frame": "group", "anchor": "middle"},
      "resolve": {"scale": {"strokeDash": "independent"}, "legend": {"strokeDash": "independent"}, "axis": {"x": "independent", "y": "independent"}},
      "layer": [
        {
          "data": {"name": "curves"},
          "transform": [{"filter": "datum.panel === 'Haze' && datum.model === 'Haze'"}],
          "mark": {"type": "line", "color": "#000", "strokeWidth": 2.3, "interpolate": "monotone"},
          "encoding": {
            "x": {"field": "theta", "type": "quantitative", "scale": {"domain": [0, 90], "nice": false, "zero": false},
              "axis": {"orient": "bottom", "values": [10, 20, 30, 40, 50, 60, 70, 80, 90], "tickSize": {"condition": {"test": "datum.value % 30 === 0", "value": -13}, "value": -7}, "labelExpr": "datum.value % 30 === 0 ? datum.label : ''", "labelPadding": 27, "labelFontSize": 20.5, "title": null}},
            "y": {"field": "R", "type": "quantitative", "scale": {"type": "log", "domain": [0.0178, 2.12], "nice": false},
              "axis": {"orient": "left", "values": [0.05, 0.1, 0.5, 1], "tickSize": {"condition": {"test": "datum.value === 1 || datum.value === 0.1", "value": -13}, "value": -7}, "labels": false, "title": null}},
            "detail": {"field": "tau", "type": "nominal"},
            "strokeDash": {"field": "model", "type": "nominal", "scale": {"domain": ["Haze"], "range": [[1, 0]]},
              "legend": {"orient": "none", "legendX": 35.5, "legendY": 48.7, "title": null, "symbolSize": 1849, "symbolStrokeWidth": 2.3, "direction": "vertical"}}
          }
        },
        {
          "data": {"name": "curves"},
          "transform": [{"filter": "datum.panel === 'Haze' && (datum.model === 'Henyey-Greenstein' || datum.model === 'Kagiwada-Kalaba')"}],
          "mark": {"type": "line", "color": "#000", "strokeWidth": 2.5, "interpolate": "monotone"},
          "encoding": {
            "x": {"field": "theta", "type": "quantitative",
              "axis": {"orient": "top", "values": [10, 20, 30, 40, 50, 60, 70, 80], "tickSize": {"condition": {"test": "datum.value % 30 === 0", "value": -13}, "value": -7}, "labels": false, "title": null}},
            "y": {"field": "R", "type": "quantitative",
              "axis": {"orient": "right", "values": [0.05, 0.1, 0.5, 1], "tickSize": {"condition": {"test": "datum.value === 1 || datum.value === 0.1", "value": -13}, "value": -6}, "labels": false, "title": null}},
            "detail": {"field": "tau", "type": "nominal"},
            "strokeDash": {"field": "model", "type": "nominal", "scale": {"domain": ["Henyey-Greenstein", "Kagiwada-Kalaba"], "range": [[2.5, 5.5], [22, 12]]},
              "legend": {"orient": "none", "legendX": 156, "legendY": 28, "title": null, "symbolSize": 2116, "symbolStrokeWidth": 2.5, "rowPadding": 0, "direction": "vertical"}}
          }
        },
        {
          "data": {"name": "notes"},
          "transform": [{"filter": "datum.panel === 'Haze'"}],
          "mark": {"type": "text", "fontSize": 14.5, "fontWeight": "bold", "color": "#000"},
          "encoding": {
            "x": {"field": "theta", "type": "quantitative", "axis": null},
            "y": {"field": "R", "type": "quantitative", "axis": null},
            "text": {"field": "label"}
          }
        }
      ]
    }
  ]
}
